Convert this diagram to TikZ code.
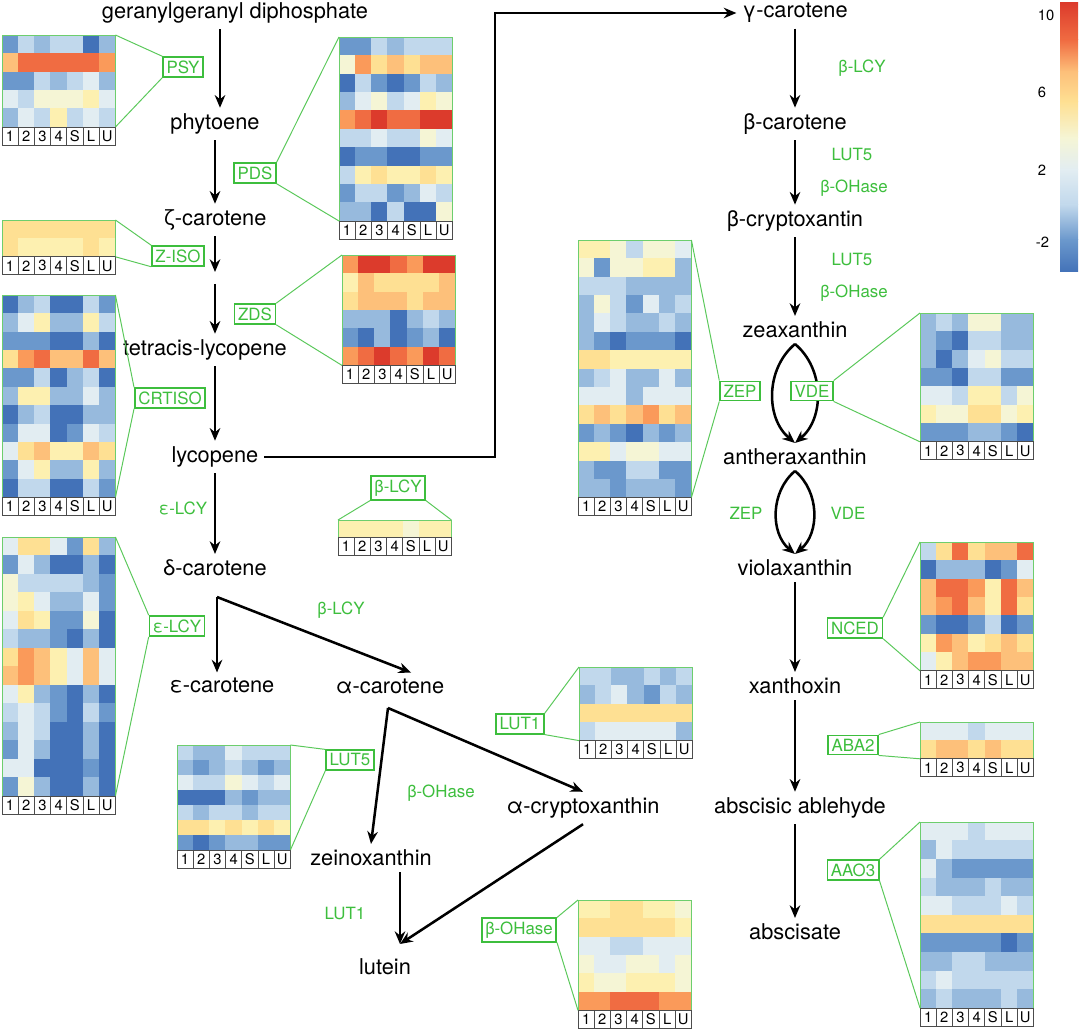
\documentclass[tikz,border=0pt]{standalone}
\usepackage{fontspec}
\setmainfont{TeX Gyre Heros}
\usetikzlibrary{arrows.meta}

\definecolor{enz}{HTML}{3DBE3D}
\definecolor{hma}{HTML}{4372B8}
\definecolor{hmb}{HTML}{6B98CC}
\definecolor{hmc}{HTML}{97BADD}
\definecolor{hmd}{HTML}{C1D8EC}
\definecolor{hme}{HTML}{E2EDF2}
\definecolor{hmf}{HTML}{F5F5D5}
\definecolor{hmg}{HTML}{FDF0B0}
\definecolor{hmh}{HTML}{FEE093}
\definecolor{hmi}{HTML}{FDC07A}
\definecolor{hmj}{HTML}{FA9A5A}
\definecolor{hmk}{HTML}{F06C42}
\definecolor{hml}{HTML}{DC3B2C}

\newcommand{\metfont}{\fontsize{15.5}{18}\selectfont}
\newcommand{\enzfont}{\fontsize{12}{14}\selectfont}
\newcommand{\cellfont}{\fontsize{10.5}{11}\selectfont}

% heat map: name, left x, top y, rows, row height, cell colours
\newcommand{\heatgrid}[6]{%
  \foreach \hrow [count=\i] in {#6}{
    \foreach \hc [count=\j] in \hrow
      \filldraw[fill=hm\hc, draw=hm\hc, line width=0.3pt] ({#2+(\j-1)*16.2},{#3+(\i-1)*#5}) rectangle +(16.2,#5);
  }
  \draw[hmframe] (#2,#3) rectangle ({#2+113.4},{#3+#4*#5});
  \coordinate (#1-nw) at (#2,#3);
  \coordinate (#1-ne) at ({#2+113.4},#3);
  \coordinate (#1-sw) at (#2,{#3+#4*#5});
  \coordinate (#1-se) at ({#2+113.4},{#3+#4*#5});
  \foreach \lab [count=\j] in {1,2,3,4,S,L,U}
    \node[lblcell] at ({#2+(\j-0.5)*16.2},{#3+#4*#5+9}) {\lab};
}

\begin{document}
\begin{tikzpicture}[x=0.025cm, y=-0.025cm,
    met/.style={font=\metfont, inner sep=4pt},
    rxn/.style={-{Stealth[length=9pt,width=7.5pt]}, line width=1.8pt},
    enzlabel/.style={text=enz, font=\enzfont},
    enzbox/.style={draw=enz, line width=1.1pt, fill=white, text=enz, font=\enzfont, inner sep=2.5pt},
    zoomline/.style={enz!85, line width=0.7pt},
    hmframe/.style={draw=enz!75, line width=0.7pt},
    lblcell/.style={draw=black!70, line width=0.5pt, fill=white, minimum width=11.5pt, minimum height=12.8pt, inner sep=0pt, font=\cellfont}]
    \useasboundingbox (0,0) rectangle (1080,1029);

    % Draw nodes
    \node[met] (ggpp) at (235,13) {geranylgeranyl diphosphate};
    \node[met] (phyt) at (215,124) {phytoene};
    \node[met] (zcar) at (215,220) {ζ-carotene};
    \node[met] (tlyc) at (205,350) {tetracis-lycopene};
    \node[met] (lyc) at (215,457) {lycopene};
    \node[met] (dcar) at (215,568) {δ-carotene};
    \node[met] (ecar) at (222,686) {ε-carotene};
    \node[met] (acar) at (390,686) {α-carotene};
    \node[met] (zein) at (371,858) {zeinoxanthin};
    \node[met] (lut) at (385,967) {lutein};
    \node[met] (acry) at (583,808) {α-cryptoxanthin};
    \node[met] (gcar) at (795,13) {γ-carotene};
    \node[met] (bcar) at (795,124) {β-carotene};
    \node[met] (bcry) at (795,221) {β-cryptoxantin};
    \node[met] (zea) at (795,330) {zeaxanthin};
    \node[met] (anth) at (795,457) {antheraxanthin};
    \node[met] (viol) at (795,568) {violaxanthin};
    \node[met] (xant) at (795,686) {xanthoxin};
    \node[met] (abal) at (800,808) {abscisic ablehyde};
    \node[met] (absc) at (795,932) {abscisate};

    \coordinate (zisoend) at (215,272);
    \coordinate (zdsstart) at (215,284);
    \coordinate (dfork) at (217,597);
    \coordinate (afork) at (388,708);
    \coordinate (lycup) at (495,13);
    \coordinate (lutin) at (400,944);

    % Draw connections
    \draw[rxn] (ggpp.south -| 220,0) -- (phyt.north -| 220,0);
    \draw[rxn] (phyt) -- (zcar);
    \draw[rxn] (zcar) -- (zisoend);
    \draw[rxn] (zdsstart) -- (zdsstart |- tlyc.north);
    \draw[rxn] (tlyc.south -| lyc) -- (lyc);
    \draw[rxn] (lyc) -- (dcar);
    \draw[rxn] (dfork) -- (dfork |- ecar.north);
    \draw[rxn] (dfork) -- ([xshift=15]acar.north);
    \draw[rxn] (afork) -- (zein.north);
    \draw[rxn] (afork) -- (acry.north);
    \draw[rxn] (lutin |- zein.south) -- (lutin);
    \draw[rxn] (acry.south) -- (lutin);
    \draw[rxn] (lyc.east) -| (lycup) -- (gcar.west);
    \draw[rxn] (gcar) -- (bcar);
    \draw[rxn] (bcar) -- (bcry);
    \draw[rxn] (bcry) -- (zea);
    \draw[rxn] (zea.south) to[bend left=50] (anth.north);
    \draw[rxn] (zea.south) to[bend right=50] (anth.north);
    \draw[rxn] (anth.south) to[bend left=50] (viol.north);
    \draw[rxn] (anth.south) to[bend right=50] (viol.north);
    \draw[rxn] (viol) -- (xant);
    \draw[rxn] (xant) -- (xant |- abal.north);
    \draw[rxn] (xant |- abal.south) -- (absc);

    % Labels
    \node[enzlabel] (blcy1) at (862,68) {β-LCY};
    \node[enzlabel] (lut5a) at (852,155) {LUT5};
    \node[enzlabel] (boha) at (854,188) {β-OHase};
    \node[enzlabel] (lut5b) at (852,260) {LUT5};
    \node[enzlabel] (bohb) at (854,293) {β-OHase};
    \node[enzlabel] (zep1) at (746,513) {ZEP};
    \node[enzlabel] (vde1) at (848,513) {VDE};
    \node[enzlabel] (elcy1) at (183,508) {ε-LCY};
    \node[enzlabel] (blcy2) at (341,610) {β-LCY};
    \node[enzlabel] (bohc) at (441,793) {β-OHase};
    \node[enzlabel] (lut1a) at (345,913) {LUT1};

    % Heat maps
    \heatgrid{psy}{2}{35}{5}{18.4}{{b,d,c,d,d,a,c},{i,k,k,k,k,k,j},{b,b,d,c,d,e,c},{e,d,f,f,f,g,e},{c,e,d,g,d,e,d}}
    \heatgrid{pds}{339}{37}{10}{18.4}{{b,b,d,c,d,d,d},{f,j,h,i,h,i,i},{a,d,b,a,b,d,c},{c,e,f,d,e,g,f},{j,k,l,k,k,l,l},{d,d,e,d,d,f,e},{a,b,b,a,a,b,b},{d,g,h,g,g,h,g},{b,d,d,b,c,e,d},{c,c,a,d,a,a,f}}
    \heatgrid{ziso}{2}{220}{2}{18.4}{{h,h,h,h,h,h,h},{h,g,g,g,g,h,g}}
    \heatgrid{zds}{342}{255}{6}{18.4}{{j,l,l,k,j,l,l},{g,i,h,h,h,h,i},{h,i,i,i,h,i,i},{c,c,c,a,c,d,c},{b,a,c,a,b,c,a},{j,k,l,k,j,l,k}}
    \heatgrid{crtiso}{2}{295}{11}{18.4}{{a,c,d,a,a,d,b},{c,e,g,c,c,g,d},{b,b,b,a,a,c,a},{h,j,k,i,i,k,i},{b,b,d,a,c,d,a},{c,g,g,c,c,e,c},{a,c,d,a,a,c,c},{b,e,e,a,b,e,d},{e,h,i,g,g,i,h},{b,e,g,c,c,g,c},{a,d,d,a,a,d,b}}
    \heatgrid{elcy}{2}{537}{14}{18.5}{{e,h,h,e,b,h,c},{b,e,c,a,a,c,a},{f,d,d,d,d,c,b},{f,g,e,c,c,e,b},{e,h,g,b,b,f,a},{d,c,c,b,a,c,a},{h,j,i,g,e,i,e},{i,j,i,g,e,i,e},{e,g,c,b,a,c,a},{d,e,d,b,a,d,b},{c,e,d,a,a,c,a},{b,e,c,a,a,c,a},{e,e,a,a,a,b,a},{b,f,c,a,a,c,a}}
    \heatgrid{blcy}{338}{520}{1}{17}{{g,g,g,g,f,g,g}}
    \heatgrid{zep}{578}{240}{14}{18.4}{{g,g,f,d,f,f,e},{f,b,f,f,g,g,c},{d,d,d,c,c,c,c},{c,f,d,b,e,c,d},{c,e,d,c,c,d,c},{c,b,a,b,b,b,a},{h,h,g,g,g,g,g},{c,d,e,c,c,e,c},{e,e,e,c,e,e,e},{h,i,h,i,j,h,i},{b,c,b,a,c,b,c},{g,g,e,f,f,e,e},{c,b,b,d,d,b,b},{c,c,b,c,c,c,b}}
    \heatgrid{vde}{920}{313}{7}{18.4}{{c,d,c,f,f,c,c},{c,b,a,d,d,c,c},{c,a,c,e,f,d,d},{b,b,a,d,d,b,b},{e,e,d,g,g,d,f},{g,f,f,h,h,f,g},{b,b,b,c,c,b,a}}
    \heatgrid{nced}{920}{542}{7}{18.4}{{d,h,k,h,i,i,k},{a,c,c,c,a,b,e},{i,k,k,j,g,k,i},{i,j,k,i,g,k,h},{b,a,a,b,d,a,b},{g,j,i,g,h,i,h},{e,g,i,j,j,i,i}}
    \heatgrid{lut1}{579}{667}{4}{18.4}{{d,d,c,c,d,c,d},{c,d,e,c,b,d,c},{h,h,h,h,h,h,h},{d,e,e,e,e,e,c}}
    \heatgrid{aba2}{920}{722}{2}{18.4}{{e,e,e,d,e,e,e},{h,i,i,h,i,h,h}}
    \heatgrid{aao3}{920}{822}{10}{18.6}{{e,e,e,d,e,e,e},{c,e,d,d,d,d,d},{e,c,b,b,b,b,b},{d,c,c,c,d,c,c},{e,e,d,d,d,e,d},{h,h,h,h,h,h,h},{b,b,b,b,b,a,b},{c,c,d,d,c,c,c},{d,e,d,d,d,d,d},{c,d,c,c,c,d,c}}
    \heatgrid{lut5}{177}{745}{7}{15}{{d,c,c,e,d,d,d},{c,b,c,d,c,b,c},{e,d,d,f,e,d,e},{a,a,a,c,b,c,c},{d,c,d,d,c,d,d},{h,h,g,h,g,h,g},{b,a,b,c,c,b,b}}
    \heatgrid{boh}{578}{900}{6}{18.4}{{g,g,h,h,g,g,f},{h,h,h,h,h,h,g},{e,e,d,d,e,e,e},{f,e,e,f,f,e,f},{g,f,f,g,g,g,f},{j,j,k,k,k,j,j}}

    % Zoom boxes
    \node[enzbox] (psyb) at (183,67) {PSY};
    \node[enzbox] (pdsb) at (255,173) {PDS};
    \node[enzbox] (zisob) at (178,256) {Z-ISO};
    \node[enzbox] (zdsb) at (255,314) {ZDS};
    \node[enzbox] (crtisob) at (170,398) {CRTISO};
    \node[enzbox] (elcyb) at (177,626) {ε-LCY};
    \node[enzbox] (blcyb) at (398,488) {β-LCY};
    \node[enzbox] (zepb) at (740,391) {ZEP};
    \node[enzbox] (vdeb) at (812,391) {VDE};
    \node[enzbox] (ncedb) at (855,628) {NCED};
    \node[enzbox] (lut1b) at (520,724) {LUT1};
    \node[enzbox] (aba2b) at (853,745) {ABA2};
    \node[enzbox] (aao3b) at (853,870) {AAO3};
    \node[enzbox] (lut5b) at (350,760) {LUT5};
    \node[enzbox] (bohb) at (519,930) {β-OHase};

    \draw[zoomline] (psyb.north west) -- (psy-ne) (psyb.south west) -- (psy-se);
    \draw[zoomline] (pdsb.north east) -- (pds-nw) (pdsb.south east) -- (pds-sw);
    \draw[zoomline] (zisob.north west) -- (ziso-ne) (zisob.south west) -- (ziso-se);
    \draw[zoomline] (zdsb.north east) -- (zds-nw) (zdsb.south east) -- (zds-sw);
    \draw[zoomline] (crtisob.north west) -- (crtiso-ne) (crtisob.south west) -- (crtiso-se);
    \draw[zoomline] (elcyb.north west) -- (elcy-ne) (elcyb.south west) -- (elcy-se);
    \draw[zoomline] (blcyb.south west) -- (blcy-nw) (blcyb.south east) -- (blcy-ne);
    \draw[zoomline] (zepb.north west) -- (zep-ne) (zepb.south west) -- (zep-se);
    \draw[zoomline] (vdeb.north east) -- (vde-nw) (vdeb.south east) -- (vde-sw);
    \draw[zoomline] (ncedb.north east) -- (nced-nw) (ncedb.south east) -- (nced-sw);
    \draw[zoomline] (lut1b.north east) -- (lut1-nw) (lut1b.south east) -- (lut1-sw);
    \draw[zoomline] (aba2b.north east) -- (aba2-nw) (aba2b.south east) -- (aba2-sw);
    \draw[zoomline] (aao3b.north east) -- (aao3-nw) (aao3b.south east) -- (aao3-sw);
    \draw[zoomline] (lut5b.north west) -- (lut5-ne) (lut5b.south west) -- (lut5-se);
    \draw[zoomline] (bohb.north east) -- (boh-nw) (bohb.south east) -- (boh-sw);

    % Colour key
    \shade[top color=hml, bottom color=hmk] (1060,3) rectangle (1078,40);
    \shade[top color=hmk, bottom color=hmi] (1060,40) rectangle (1078,72);
    \shade[top color=hmi, bottom color=hmh] (1060,72) rectangle (1078,102);
    \shade[top color=hmh, bottom color=hmf] (1060,102) rectangle (1078,138);
    \shade[top color=hmf, bottom color=hme] (1060,138) rectangle (1078,170);
    \shade[top color=hme, bottom color=hmd] (1060,170) rectangle (1078,205);
    \shade[top color=hmd, bottom color=hmb] (1060,205) rectangle (1078,240);
    \shade[top color=hmb, bottom color=hma] (1060,240) rectangle (1078,272);
    \node[font=\cellfont, anchor=west] (k10) at (1033,15) {10};
    \node[font=\cellfont, anchor=west] (k6) at (1033,92) {6};
    \node[font=\cellfont, anchor=west] (k2) at (1033,170) {2};
    \node[font=\cellfont, anchor=west] (km2) at (1031,242) {-2};
\end{tikzpicture}
\end{document}
